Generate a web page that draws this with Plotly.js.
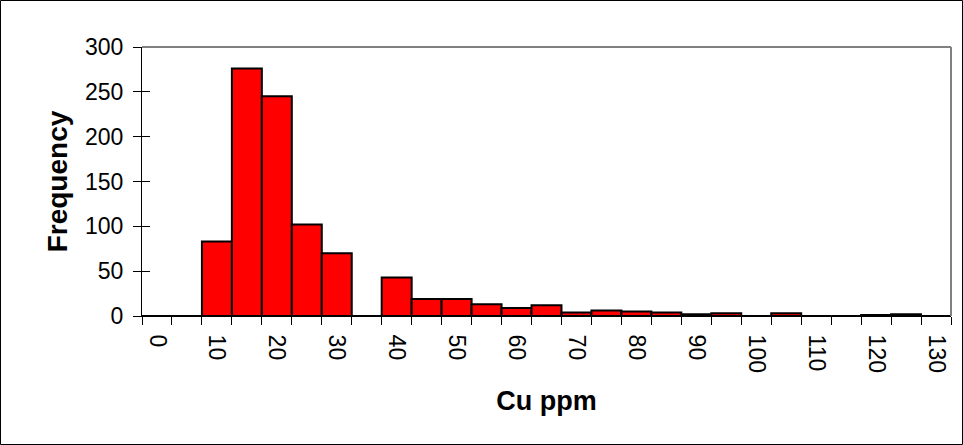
<!DOCTYPE html>
<html><head><meta charset="utf-8">
<script src="https://cdn.plot.ly/plotly-3.0.1.min.js"></script>
<style>html,body{margin:0;padding:0;background:#fff}</style>
</head><body>
<div id="chart" style="width:963px;height:445px"></div>
<script>
const binStarts = [0,5,10,15,20,25,30,35,40,45,50,55,60,65,70,75,80,85,90,95,100,105,110,115,120,125,130];
const frequency = [0,0,83,276,245,102,70,0,43,19,19,13,9,12,4,6,5,4,2,3,0,3,0,0,1,2,0];
const xTickLabels = [0,10,20,30,40,50,60,70,80,90,100,110,120,130];
const yTickLabels = [0,50,100,150,200,250,300];

const W = 963, H = 445;
const m = {l:142, r:12, t:47, b:129};
const pw = W - m.l - m.r, ph = H - m.t - m.b;
const boundaries = binStarts.map(v => v - 2.5).concat([binStarts[binStarts.length-1] + 2.5]);

const trace = {
  type: 'bar',
  x: binStarts,
  y: frequency,
  width: 5,
  marker: {color: '#ff0000', line: {color: '#000000', width: 2}},
  hoverinfo: 'x+y'
};
// invisible helper trace to carry inside tick marks on an overlaid y axis
const helper = {type:'scatter', x:[binStarts[0]], y:[0], yaxis:'y2', mode:'markers', marker:{opacity:0}, hoverinfo:'skip'};

const layout = {
  width: W, height: H,
  margin: m,
  paper_bgcolor: '#ffffff',
  plot_bgcolor: '#ffffff',
  showlegend: false,
  bargap: 0,
  font: {family: 'Liberation Sans, Arial, sans-serif', color: '#000'},
  xaxis: {
    range: [-2.5, 132.5],
    tickmode: 'array',
    tickvals: xTickLabels,
    ticktext: xTickLabels.map(String),
    tickangle: 90,
    ticks: '',
    ticklabelstandoff: 13,
    showgrid: false,
    zeroline: false,
    showline: true, linecolor: '#000', linewidth: 1,
    tickfont: {size: 23, color: '#000'},
    minor: {tickmode: 'array', tickvals: boundaries, ticks: 'outside', ticklen: 8, tickcolor: '#000', tickwidth: 1, showgrid: false},
    title: {text: '<b>Cu ppm</b>', font: {size: 27, color: '#000'}, standoff: 19},
    fixedrange: true
  },
  yaxis: {
    range: [0, 300],
    tickmode: 'array',
    tickvals: yTickLabels,
    ticks: 'outside', ticklen: 8, tickcolor: '#000',
    ticklabelstandoff: 5,
    showgrid: false,
    zeroline: false,
    showline: true, linecolor: '#000', linewidth: 1,
    tickfont: {size: 23, color: '#000'},
    title: {text: '<b>Frequency</b>', font: {size: 28, color: '#000'}, standoff: 9},
    fixedrange: true
  },
  yaxis2: {
    overlaying: 'y', side: 'left', anchor: 'x',
    range: [0, 300],
    tickmode: 'array', tickvals: yTickLabels,
    ticks: 'inside', ticklen: 8, tickcolor: '#000',
    showticklabels: false, showgrid: false, zeroline: false, showline: false,
    fixedrange: true
  },
  shapes: [
    {type:'line', xref:'paper', yref:'paper', x0:0, x1:1, y0:1, y1:1, line:{color:'#808080', width:2}},
    {type:'line', xref:'paper', yref:'paper', x0:1, x1:1, y0:0, y1:1, line:{color:'#808080', width:2}},
    {type:'rect', xref:'paper', yref:'paper',
      x0:(-m.l+0.5)/pw, x1:(pw+m.r-0.5)/pw, y0:(-m.b+0.5)/ph, y1:(ph+m.t-0.5)/ph,
      line:{color:'#000', width:1}, layer:'below'}
  ]
};

Plotly.newPlot('chart', [trace, helper], layout, {displayModeBar: false, staticPlot: true});
</script>
</body></html>
